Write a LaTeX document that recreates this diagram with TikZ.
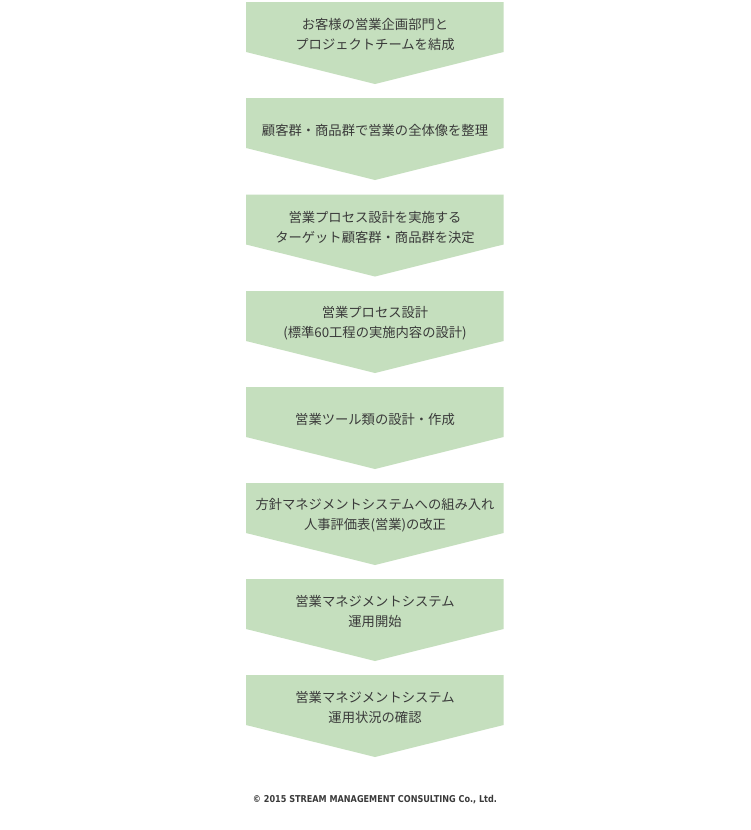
\documentclass[tikz,border=0pt]{standalone}
\usepackage{fontspec}
\newfontfamily\jpfont{Noto Sans CJK JP}
\newfontfamily\cpfont{DejaVu Sans}
\definecolor{chev}{HTML}{C5DFBE}
\definecolor{txt}{HTML}{3A3A3A}
\begin{document}
\begin{tikzpicture}[x=1pt,y=-1pt,
  chevbox/.style={fill=chev,draw=none},
  steplabel/.style={align=center,text=txt,font=\jpfont\fontsize{13.3pt}{20pt}\selectfont,inner sep=0pt}]
\useasboundingbox (0,0) rectangle (750,830);
\fill[white] (0,0) rectangle (750,830);
\foreach \t/\lab [count=\i] in {
  2/{お客様の営業企画部門と\\プロジェクトチームを結成},
  98/{顧客群・商品群で営業の全体像を整理},
  194.5/{営業プロセス設計を実施する\\ターゲット顧客群・商品群を決定},
  291/{営業プロセス設計\\(標準60工程の実施内容の設計)},
  387/{営業ツール類の設計・作成},
  483/{方針マネジメントシステムへの組み入れ\\人事評価表(営業)の改正},
  579/{営業マネジメントシステム\\運用開始},
  675/{営業マネジメントシステム\\運用状況の確認}}
{
  \path[chevbox] (246,\t) -- (503.5,\t) -- (503.5,\t+50) -- (375,\t+82) -- (246,\t+50) -- cycle;
  \node[steplabel] (s\i) at (375,\t+32.5) {\lab};
}
\node[text=txt,inner sep=0pt,anchor=center] (copy) at (375,800)
  {\resizebox{244pt}{7.2pt}{\cpfont\bfseries © 2015 STREAM MANAGEMENT CONSULTING Co., Ltd.}};
\end{tikzpicture}
\end{document}
